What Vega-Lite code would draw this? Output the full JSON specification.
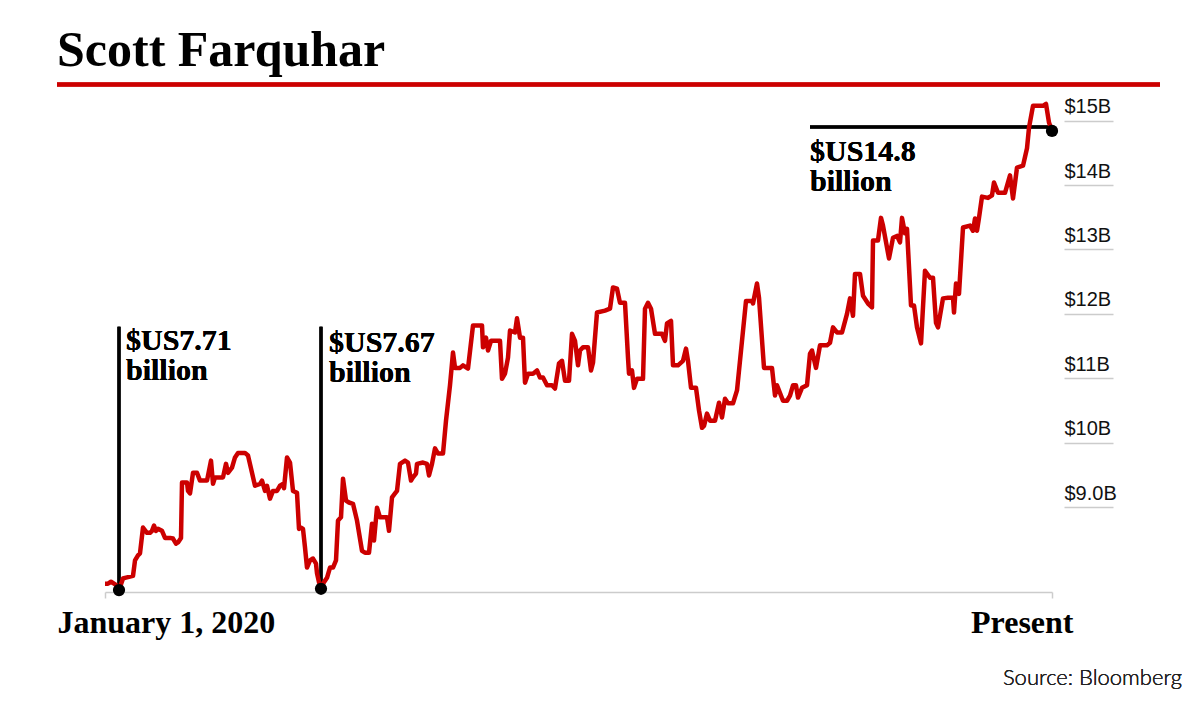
{
  "$schema": "https://vega.github.io/schema/vega-lite/v6.json",
  "width": 947,
  "height": 510,
  "autosize": {"type": "none"},
  "padding": {"left": 105, "top": 82, "right": 148, "bottom": 112},
  "background": "#ffffff",
  "config": {"view": {"stroke": null}},
  "title": {
    "text": "Scott Farquhar",
    "anchor": "start",
    "frame": "group",
    "font": "Liberation Serif",
    "fontSize": 50,
    "fontWeight": "bold",
    "color": "#000000",
    "dx": -48,
    "offset": 6
  },
  "datasets": {
    "series": [
      {"t":0,"v":7.81},{"t":3,"v":7.81},{"t":6,"v":7.84},{"t":12,"v":7.78},{"t":14,"v":7.71},{"t":18,"v":7.89},{"t":20,"v":7.90},{"t":28,"v":7.93},{"t":30,"v":8.17},{"t":33,"v":8.25},{"t":35,"v":8.28},{"t":38,"v":8.68},{"t":42,"v":8.60},{"t":45,"v":8.60},{"t":47,"v":8.63},{"t":49,"v":8.71},{"t":51,"v":8.63},{"t":53,"v":8.66},{"t":57,"v":8.63},{"t":60,"v":8.52},{"t":65,"v":8.52},{"t":68,"v":8.51},{"t":71,"v":8.43},{"t":73,"v":8.45},{"t":76,"v":8.52},{"t":77,"v":9.38},{"t":82,"v":9.38},{"t":83,"v":9.25},{"t":85,"v":9.21},{"t":88,"v":9.53},{"t":92,"v":9.53},{"t":95,"v":9.41},{"t":102,"v":9.41},{"t":106,"v":9.72},{"t":108,"v":9.36},{"t":110,"v":9.46},{"t":118,"v":9.46},{"t":121,"v":9.67},{"t":123,"v":9.53},{"t":127,"v":9.61},{"t":130,"v":9.77},{"t":133,"v":9.84},{"t":140,"v":9.84},{"t":143,"v":9.80},{"t":150,"v":9.33},{"t":155,"v":9.36},{"t":157,"v":9.41},{"t":160,"v":9.25},{"t":162,"v":9.33},{"t":165,"v":9.13},{"t":168,"v":9.25},{"t":172,"v":9.25},{"t":175,"v":9.33},{"t":178,"v":9.36},{"t":179,"v":9.29},{"t":182,"v":9.77},{"t":185,"v":9.69},{"t":188,"v":9.25},{"t":192,"v":9.22},{"t":194,"v":8.66},{"t":196,"v":8.68},{"t":198,"v":8.66},{"t":200,"v":8.37},{"t":202,"v":8.06},{"t":205,"v":8.17},{"t":208,"v":8.20},{"t":211,"v":8.12},{"t":212,"v":7.97},{"t":214,"v":7.83},{"t":216,"v":7.73},{"t":218,"v":7.81},{"t":222,"v":7.90},{"t":225,"v":8.06},{"t":228,"v":8.06},{"t":231,"v":8.17},{"t":233,"v":8.79},{"t":236,"v":8.84},{"t":238,"v":9.44},{"t":241,"v":9.10},{"t":244,"v":9.07},{"t":248,"v":9.05},{"t":252,"v":8.79},{"t":257,"v":8.32},{"t":260,"v":8.29},{"t":264,"v":8.29},{"t":267,"v":8.74},{"t":269,"v":8.48},{"t":272,"v":8.99},{"t":275,"v":8.84},{"t":282,"v":8.84},{"t":284,"v":8.63},{"t":287,"v":9.15},{"t":290,"v":9.21},{"t":292,"v":9.25},{"t":295,"v":9.67},{"t":300,"v":9.72},{"t":303,"v":9.69},{"t":306,"v":9.41},{"t":308,"v":9.46},{"t":311,"v":9.52},{"t":312,"v":9.67},{"t":318,"v":9.69},{"t":322,"v":9.67},{"t":324,"v":9.49},{"t":327,"v":9.67},{"t":330,"v":9.91},{"t":333,"v":9.83},{"t":338,"v":9.83},{"t":341,"v":10.34},{"t":345,"v":10.89},{"t":348,"v":11.40},{"t":350,"v":11.16},{"t":355,"v":11.16},{"t":358,"v":11.20},{"t":363,"v":11.15},{"t":368,"v":11.82},{"t":377,"v":11.82},{"t":378,"v":11.48},{"t":381,"v":11.63},{"t":383,"v":11.43},{"t":386,"v":11.58},{"t":395,"v":11.58},{"t":397,"v":10.99},{"t":400,"v":11.07},{"t":403,"v":11.32},{"t":405,"v":11.74},{"t":410,"v":11.71},{"t":412,"v":11.93},{"t":415,"v":11.63},{"t":418,"v":11.63},{"t":420,"v":10.93},{"t":423,"v":11.07},{"t":428,"v":11.07},{"t":432,"v":11.12},{"t":435,"v":11.01},{"t":438,"v":11.01},{"t":442,"v":10.89},{"t":447,"v":10.89},{"t":450,"v":10.84},{"t":454,"v":11.23},{"t":457,"v":11.27},{"t":460,"v":10.96},{"t":464,"v":10.96},{"t":467,"v":11.69},{"t":470,"v":11.58},{"t":473,"v":11.20},{"t":475,"v":11.43},{"t":478,"v":11.48},{"t":483,"v":11.48},{"t":486,"v":11.12},{"t":488,"v":11.24},{"t":492,"v":12.02},{"t":500,"v":12.05},{"t":505,"v":12.08},{"t":508,"v":12.41},{"t":512,"v":12.39},{"t":515,"v":12.17},{"t":520,"v":12.17},{"t":523,"v":11.32},{"t":524,"v":11.07},{"t":527,"v":11.12},{"t":529,"v":10.85},{"t":532,"v":10.99},{"t":538,"v":10.99},{"t":540,"v":12.08},{"t":543,"v":12.17},{"t":546,"v":12.08},{"t":550,"v":11.69},{"t":557,"v":11.69},{"t":560,"v":11.58},{"t":562,"v":11.85},{"t":566,"v":11.89},{"t":568,"v":11.20},{"t":573,"v":11.20},{"t":578,"v":11.27},{"t":581,"v":11.46},{"t":583,"v":11.27},{"t":586,"v":10.85},{"t":591,"v":10.85},{"t":594,"v":10.50},{"t":597,"v":10.23},{"t":599,"v":10.26},{"t":602,"v":10.45},{"t":605,"v":10.34},{"t":610,"v":10.34},{"t":614,"v":10.62},{"t":617,"v":10.39},{"t":620,"v":10.68},{"t":623,"v":10.61},{"t":628,"v":10.61},{"t":632,"v":10.81},{"t":637,"v":11.58},{"t":641,"v":12.20},{"t":647,"v":12.20},{"t":648,"v":12.16},{"t":652,"v":12.47},{"t":654,"v":12.25},{"t":659,"v":11.16},{"t":667,"v":11.16},{"t":670,"v":10.73},{"t":672,"v":10.89},{"t":678,"v":10.65},{"t":682,"v":10.65},{"t":685,"v":10.73},{"t":688,"v":10.89},{"t":691,"v":10.89},{"t":693,"v":10.70},{"t":697,"v":10.85},{"t":702,"v":10.89},{"t":705,"v":11.38},{"t":707,"v":11.43},{"t":711,"v":11.16},{"t":715,"v":11.51},{"t":722,"v":11.51},{"t":725,"v":11.55},{"t":728,"v":11.79},{"t":732,"v":11.71},{"t":737,"v":11.71},{"t":742,"v":12.00},{"t":745,"v":12.24},{"t":748,"v":11.97},{"t":750,"v":12.62},{"t":755,"v":12.62},{"t":758,"v":12.28},{"t":763,"v":12.16},{"t":767,"v":12.10},{"t":768,"v":13.14},{"t":773,"v":13.14},{"t":776,"v":13.49},{"t":778,"v":13.37},{"t":784,"v":12.86},{"t":788,"v":13.18},{"t":792,"v":13.21},{"t":795,"v":13.11},{"t":797,"v":13.49},{"t":800,"v":13.25},{"t":802,"v":13.32},{"t":806,"v":12.13},{"t":809,"v":12.13},{"t":812,"v":11.79},{"t":816,"v":11.54},{"t":820,"v":12.67},{"t":825,"v":12.56},{"t":828,"v":12.56},{"t":831,"v":11.86},{"t":833,"v":11.79},{"t":838,"v":12.24},{"t":843,"v":12.25},{"t":848,"v":12.25},{"t":849,"v":12.02},{"t":851,"v":12.47},{"t":854,"v":12.31},{"t":858,"v":13.34},{"t":865,"v":13.37},{"t":868,"v":13.29},{"t":870,"v":13.48},{"t":872,"v":13.29},{"t":874,"v":13.49},{"t":877,"v":13.82},{"t":883,"v":13.80},{"t":887,"v":13.84},{"t":889,"v":14.04},{"t":893,"v":13.88},{"t":900,"v":13.88},{"t":905,"v":14.15},{"t":908,"v":13.79},{"t":912,"v":14.27},{"t":918,"v":14.30},{"t":922,"v":14.57},{"t":924,"v":14.89},{"t":928,"v":15.23},{"t":938,"v":15.23},{"t":941,"v":15.26},{"t":944,"v":14.97},{"t":947,"v":14.84}
    ],
    "points": [
      {"t":14,"v":7.71},{"t":216,"v":7.73},{"t":947,"v":14.84}
    ]
  },
  "layer": [
    {
      "data": {"name": "points"},
      "mark": {"type": "rule", "color": "#cc0000", "strokeWidth": 4},
      "encoding": {
        "x": {"datum": -48, "type": "quantitative", "scale": {"domain": [0, 947], "nice": false, "zero": false}},
        "x2": {"datum": 1055, "type": "quantitative"},
        "y": {"datum": 15.56, "type": "quantitative", "scale": {"domain": [7.68, 15.6], "nice": false, "zero": false}}
      }
    },
    {
      "data": {"name": "points"},
      "mark": {"type": "rule", "color": "#000000", "strokeWidth": 3},
      "encoding": {
        "x": {"datum": 14, "type": "quantitative"},
        "y": {"datum": 7.71, "type": "quantitative"},
        "y2": {"datum": 11.8, "type": "quantitative"}
      }
    },
    {
      "data": {"name": "points"},
      "mark": {"type": "rule", "color": "#000000", "strokeWidth": 3},
      "encoding": {
        "x": {"datum": 216, "type": "quantitative"},
        "y": {"datum": 7.73, "type": "quantitative"},
        "y2": {"datum": 11.8, "type": "quantitative"}
      }
    },
    {
      "data": {"name": "points"},
      "mark": {"type": "rule", "color": "#000000", "strokeWidth": 3},
      "encoding": {
        "x": {"datum": 705, "type": "quantitative"},
        "x2": {"datum": 947, "type": "quantitative"},
        "y": {"datum": 14.9, "type": "quantitative"}
      }
    },
    {
      "data": {"name": "series"},
      "mark": {"type": "line", "color": "#cc0000", "strokeWidth": 4.5, "strokeJoin": "round", "interpolate": "linear"},
      "encoding": {
        "x": {
          "field": "t",
          "type": "quantitative",
          "scale": {"domain": [0, 947], "nice": false, "zero": false},
          "axis": {
            "values": [0, 947],
            "title": null,
            "grid": false,
            "domainColor": "#cccccc",
            "domainWidth": 1.5,
            "tickColor": "#cccccc",
            "tickWidth": 1.5,
            "tickSize": 6,
            "labelExpr": "datum.value == 0 ? 'January 1, 2020' : 'Present'",
            "labelFont": "Liberation Serif",
            "labelFontSize": 32,
            "labelFontWeight": "bold",
            "labelColor": "#000000",
            "labelBaseline": "alphabetic",
            "labelPadding": 34,
            "labelLimit": 0,
            "labelAlign": {"condition": {"test": "datum.value == 0", "value": "left"}, "value": "right"},
            "labelOffset": {"condition": {"test": "datum.value == 0", "value": -48}, "value": 21},
            "labelOverlap": false
          }
        },
        "y": {
          "field": "v",
          "type": "quantitative",
          "scale": {"domain": [7.68, 15.6], "nice": false, "zero": false},
          "axis": {
            "orient": "right",
            "values": [9, 10, 11, 12, 13, 14, 15],
            "title": null,
            "grid": false,
            "domain": false,
            "offset": 12,
            "tickSize": 49,
            "tickColor": "#cccccc",
            "tickWidth": 1.5,
            "labelExpr": "datum.value == 9 ? '$9.0B' : '$' + format(datum.value, 'd') + 'B'",
            "labelFont": "Liberation Sans",
            "labelFontSize": 20,
            "labelColor": "#111111",
            "labelAlign": "left",
            "labelBaseline": "alphabetic",
            "labelPadding": -49,
            "labelOffset": -8,
            "labelLimit": 0
          }
        }
      }
    },
    {
      "data": {"name": "points"},
      "mark": {"type": "circle", "color": "#000000", "size": 150, "opacity": 1},
      "encoding": {
        "x": {"field": "t", "type": "quantitative"},
        "y": {"field": "v", "type": "quantitative"}
      }
    },
    {
      "data": {"name": "points"},
      "mark": {"type": "text", "font": "Liberation Serif", "fontSize": 30, "fontWeight": "bold", "color": "#000000", "align": "left", "baseline": "alphabetic", "lineHeight": 30},
      "encoding": {
        "x": {"datum": 21, "type": "quantitative"},
        "y": {"datum": 11.44, "type": "quantitative"},
        "text": {"value": ["$US7.71", "billion"]}
      }
    },
    {
      "data": {"name": "points"},
      "mark": {"type": "text", "font": "Liberation Serif", "fontSize": 30, "fontWeight": "bold", "color": "#000000", "align": "left", "baseline": "alphabetic", "lineHeight": 30},
      "encoding": {
        "x": {"datum": 224, "type": "quantitative"},
        "y": {"datum": 11.41, "type": "quantitative"},
        "text": {"value": ["$US7.67", "billion"]}
      }
    },
    {
      "data": {"name": "points"},
      "mark": {"type": "text", "font": "Liberation Serif", "fontSize": 30, "fontWeight": "bold", "color": "#000000", "align": "left", "baseline": "alphabetic", "lineHeight": 30},
      "encoding": {
        "x": {"datum": 705, "type": "quantitative"},
        "y": {"datum": 14.38, "type": "quantitative"},
        "text": {"value": ["$US14.8", "billion"]}
      }
    },
    {
      "data": {"name": "points"},
      "mark": {"type": "text", "font": "Lato", "fontSize": 22, "fontWeight": 300, "color": "#222222", "align": "right", "baseline": "alphabetic"},
      "encoding": {
        "x": {"datum": 1077, "type": "quantitative"},
        "y": {"datum": 6.23, "type": "quantitative"},
        "text": {"value": "Source: Bloomberg"}
      }
    }
  ]
}
